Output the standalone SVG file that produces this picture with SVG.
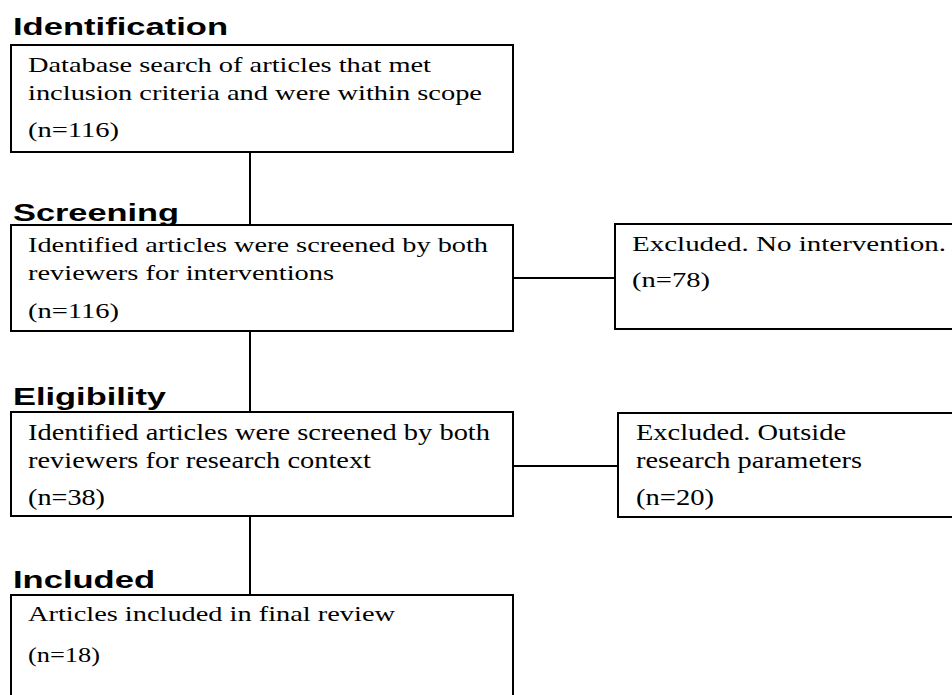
<svg xmlns="http://www.w3.org/2000/svg" width="952" height="695" viewBox="0 0 952 695">
<style>
.box{fill:#fff;stroke:#000;stroke-width:2}
.conn{stroke:#000;stroke-width:2;fill:none}
.h{font-family:"Liberation Sans",Arial,sans-serif;font-weight:bold;font-size:24px;fill:#000}
.t{font-family:"Liberation Serif","Times New Roman",serif;font-size:21px;fill:#000}
.tc{font-family:"Liberation Serif","Times New Roman",serif;font-size:23px;fill:#000}
</style>
<rect width="952" height="695" fill="#fff"/>
<g id="connectors">
<line class="conn" x1="250" y1="152" x2="250" y2="225"/>
<line class="conn" x1="250" y1="331" x2="250" y2="412"/>
<line class="conn" x1="250" y1="516" x2="250" y2="595"/>
<line class="conn" x1="513" y1="278" x2="615" y2="278"/>
<line class="conn" x1="513" y1="466" x2="618" y2="466"/>
</g>
<g id="identification">
<text class="h" x="13" y="35" textLength="215" lengthAdjust="spacingAndGlyphs">Identification</text>
<rect class="box" x="11" y="45" width="502" height="107"/>
<text class="t" x="28" y="72" textLength="403" lengthAdjust="spacingAndGlyphs">Database search of articles that met</text>
<text class="t" x="28" y="100" textLength="454" lengthAdjust="spacingAndGlyphs">inclusion criteria and were within scope</text>
<text class="t" x="28" y="137" textLength="91" lengthAdjust="spacingAndGlyphs">(n=116)</text>
</g>
<g id="screening">
<rect class="box" x="11" y="225" width="502" height="106"/>
<text class="h" x="13" y="221" textLength="166" lengthAdjust="spacingAndGlyphs">Screening</text>
<text class="t" x="28" y="252" textLength="460" lengthAdjust="spacingAndGlyphs">Identified articles were screened by both</text>
<text class="t" x="28" y="280" textLength="306" lengthAdjust="spacingAndGlyphs">reviewers for interventions</text>
<text class="t" x="28" y="318" textLength="91" lengthAdjust="spacingAndGlyphs">(n=116)</text>
</g>
<g id="excluded1">
<rect class="box" x="615" y="224" width="345" height="105"/>
<text class="t" x="632" y="251" textLength="314" lengthAdjust="spacingAndGlyphs">Excluded. No intervention.</text>
<text class="t" x="632" y="287" textLength="78" lengthAdjust="spacingAndGlyphs">(n=78)</text>
</g>
<g id="eligibility">
<rect class="box" x="11" y="412" width="502" height="104"/>
<text class="h" x="13" y="405" textLength="153" lengthAdjust="spacingAndGlyphs">Eligibility</text>
<text class="tc" x="28" y="440" textLength="462" lengthAdjust="spacingAndGlyphs">Identified articles were screened by both</text>
<text class="tc" x="28" y="468" textLength="343" lengthAdjust="spacingAndGlyphs">reviewers for research context</text>
<text class="tc" x="28" y="505" textLength="77" lengthAdjust="spacingAndGlyphs">(n=38)</text>
</g>
<g id="excluded2">
<rect class="box" x="618" y="413" width="342" height="104"/>
<text class="tc" x="636" y="440" textLength="210" lengthAdjust="spacingAndGlyphs">Excluded. Outside</text>
<text class="tc" x="636" y="468" textLength="226" lengthAdjust="spacingAndGlyphs">research parameters</text>
<text class="tc" x="636" y="505" textLength="78" lengthAdjust="spacingAndGlyphs">(n=20)</text>
</g>
<g id="included">
<rect class="box" x="11" y="595" width="502" height="110"/>
<text class="h" x="13" y="588" textLength="142" lengthAdjust="spacingAndGlyphs">Included</text>
<text class="t" x="28" y="621" textLength="367" lengthAdjust="spacingAndGlyphs">Articles included in final review</text>
<text class="t" x="28" y="662" textLength="72" lengthAdjust="spacingAndGlyphs">(n=18)</text>
</g>
</svg>
